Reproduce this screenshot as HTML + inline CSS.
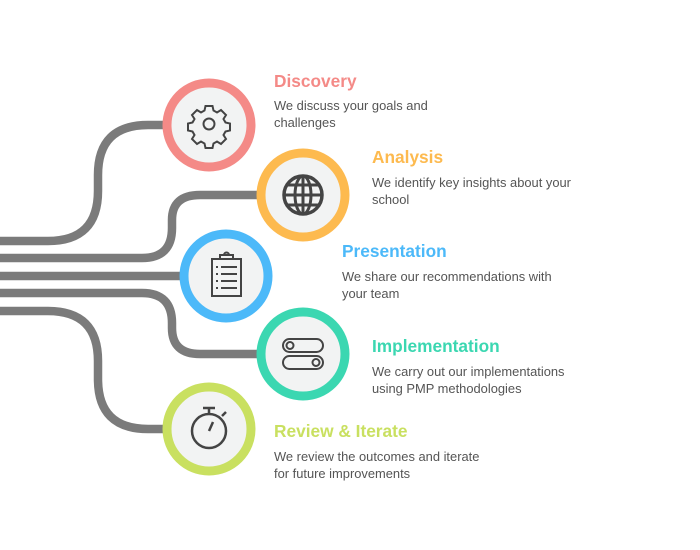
<!DOCTYPE html>
<html><head><style>
html,body{margin:0;padding:0;background:#fff;}
svg{display:block}
.t{font-family:"Liberation Sans",sans-serif;font-weight:bold;font-size:17.3px}
.d{font-family:"Liberation Sans",sans-serif;font-size:12.9px;fill:#555}
</style></head><body>
<svg width="700" height="550" viewBox="0 0 700 550" xmlns="http://www.w3.org/2000/svg">
<g fill="none" stroke="#7b7b7b" stroke-width="8.5">
<path d="M0 241 H48 Q98 241 98 191 V175 Q98 125 148 125 H175"/>
<path d="M0 258 H142 Q172 258 172 228 V220 Q172 195 200 195 H265"/>
<path d="M0 276 H190"/>
<path d="M0 293 H142 Q172 293 172 323 V328 Q172 354 200 354 H265"/>
<path d="M0 311 H48 Q98 311 98 361 V379 Q98 429 148 429 H175"/>
</g>
<g stroke-width="9" fill="#f2f3f3">
<circle cx="209" cy="125" r="42" stroke="#f48a87"/>
<circle cx="303" cy="195" r="42" stroke="#fdba4f"/>
<circle cx="226" cy="276" r="42" stroke="#4cb9f9"/>
<circle cx="303" cy="354" r="42" stroke="#3bd7b1"/>
<circle cx="209" cy="429" r="42" stroke="#c9e060"/>
</g>
<g fill="none" stroke="#444" stroke-width="2">
<circle cx="209" cy="124" r="5.5"/>
<path d="M205.5 106h7l1 4.5 3.5 2 4-2.5 5 5-2.5 4 2 3.5 4.5 1v7l-4.5 1-2 3.5 2.5 4-5 5-4-2.5-3.5 2-1 4.5h-7l-1-4.5-3.5-2-4 2.5-5-5 2.5-4-2-3.5-4.5-1v-7l4.5-1 2-3.5-2.5-4 5-5 4 2.5 3.5-2z"/>
<circle cx="303" cy="195" r="19" stroke-width="3.5"/>
<ellipse cx="303" cy="195" rx="8" ry="19" stroke-width="3"/>
<path d="M284 195h38M287 185h32M287 205h32M303 176v38" stroke-width="3"/>
<rect x="212" y="259" width="29" height="37"/>
<path d="M220 259v-4h13v4M224 255a2 2 0 0 1 5 0"/>
<path d="M216 267h2M221 267h16M216 274h2M221 274h16M216 281h2M221 281h16M216 288h2M221 288h16"/>
<rect x="283" y="339" width="40" height="13" rx="6.5"/>
<rect x="283" y="356" width="40" height="13" rx="6.5"/>
<circle cx="290" cy="345.5" r="3.5"/>
<circle cx="316" cy="362.5" r="3.5"/>
<circle cx="209" cy="431" r="17" stroke-width="2.5"/>
<path d="M203 408h12M209 408v6M222 416l4 -4M209 431l4-9" stroke-width="2.5"/>
</g>
<text class="t" x="274" y="87" fill="#f48a87">Discovery</text>
<text class="d" x="274" y="110">We discuss your goals and</text>
<text class="d" x="274" y="127">challenges</text>
<text class="t" x="372" y="163" fill="#fdba4f">Analysis</text>
<text class="d" x="372" y="187">We identify key insights about your</text>
<text class="d" x="372" y="204">school</text>
<text class="t" x="342" y="257" fill="#4cb9f9">Presentation</text>
<text class="d" x="342" y="281">We share our recommendations with</text>
<text class="d" x="342" y="298">your team</text>
<text class="t" x="372" y="352" fill="#3bd7b1">Implementation</text>
<text class="d" x="372" y="376">We carry out our implementations</text>
<text class="d" x="372" y="393">using PMP methodologies</text>
<text class="t" x="274" y="437" fill="#c9e060">Review &amp; Iterate</text>
<text class="d" x="274" y="461">We review the outcomes and iterate</text>
<text class="d" x="274" y="478">for future improvements</text>
</svg>
</body></html>
